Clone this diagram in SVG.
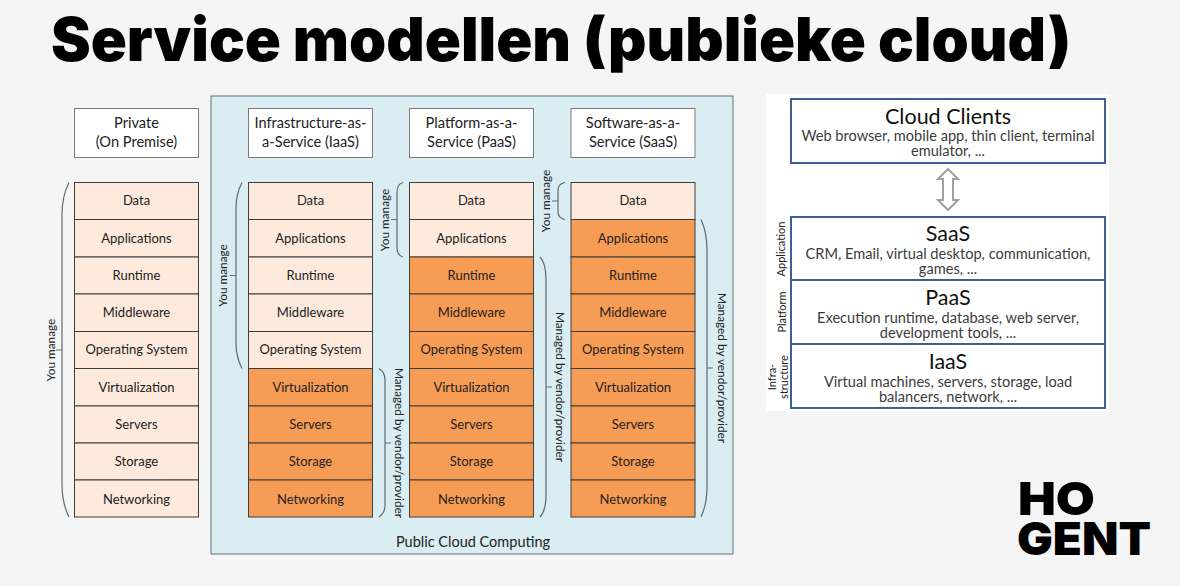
<svg xmlns="http://www.w3.org/2000/svg" width="1180" height="586" viewBox="0 0 1180 586">
<style>
text{font-family:"Lato","Open Sans",sans-serif;fill:#222;text-anchor:middle}
.h{font-size:14.6px}
.r{font-size:13px}
.box{stroke:#3d3d3d;stroke-width:1}
.hd{fill:#fff;stroke:#7a7a7a;stroke-width:1}
.l{fill:#fdeadd}
.o{fill:#f69c55}
.br{fill:none;stroke:#5f6b70;stroke-width:1.2}
.s{font-size:11.8px}
.bx{fill:#fff;stroke:#3f5f93;stroke-width:2}
.t{font-size:21.5px;fill:#111}
.d{font-size:14.6px;fill:#3c3c3c}
.sd{font-size:11px;fill:#333}
.big{font-family:"Inter","Liberation Sans",sans-serif;font-weight:900;fill:#000;text-anchor:start}
</style>
<rect width="1180" height="586" fill="#f5f5f5"/>
<text class="big" x="51" y="61" font-size="60" textLength="1020" lengthAdjust="spacingAndGlyphs">Service modellen (publieke cloud)</text>
<g id="public-cloud"><rect x="211" y="96" width="522" height="458" fill="#daedf3" stroke="#5e7078"/><text x="473" y="547" style="font-size:14.5px">Public Cloud Computing</text></g>
<g id="private">
<rect class="hd" x="74.5" y="108.5" width="124" height="49"/><text class="h" x="136.5" y="128">Private</text><text class="h" x="136.5" y="147">(On Premise)</text>
<g class="box l"><rect x="74.5" y="182.5" width="124" height="37"/><rect x="74.5" y="219.5" width="124" height="37.5"/><rect x="74.5" y="257" width="124" height="37"/><rect x="74.5" y="294" width="124" height="37.5"/><rect x="74.5" y="331.5" width="124" height="37"/><rect x="74.5" y="368.5" width="124" height="37.5"/><rect x="74.5" y="406" width="124" height="37"/><rect x="74.5" y="443" width="124" height="37"/><rect x="74.5" y="480" width="124" height="37"/></g>
<g class="r"><text x="136.5" y="205">Data</text><text x="136.5" y="243">Applications</text><text x="136.5" y="280">Runtime</text><text x="136.5" y="317">Middleware</text><text x="136.5" y="354">Operating System</text><text x="136.5" y="392">Virtualization</text><text x="136.5" y="429">Servers</text><text x="136.5" y="466">Storage</text><text x="136.5" y="504">Networking</text></g>
</g>
<g id="iaas">
<rect class="hd" x="248.5" y="108.5" width="124" height="49"/><text class="h" x="310.5" y="128">Infrastructure-as-</text><text class="h" x="310.5" y="147">a-Service (IaaS)</text>
<g class="box l"><rect x="248.5" y="182.5" width="124" height="37"/><rect x="248.5" y="219.5" width="124" height="37.5"/><rect x="248.5" y="257" width="124" height="37"/><rect x="248.5" y="294" width="124" height="37.5"/><rect x="248.5" y="331.5" width="124" height="37"/></g>
<g class="box o"><rect x="248.5" y="368.5" width="124" height="37.5"/><rect x="248.5" y="406" width="124" height="37"/><rect x="248.5" y="443" width="124" height="37"/><rect x="248.5" y="480" width="124" height="37"/></g>
<g class="r"><text x="310.5" y="205">Data</text><text x="310.5" y="243">Applications</text><text x="310.5" y="280">Runtime</text><text x="310.5" y="317">Middleware</text><text x="310.5" y="354">Operating System</text><text x="310.5" y="392">Virtualization</text><text x="310.5" y="429">Servers</text><text x="310.5" y="466">Storage</text><text x="310.5" y="504">Networking</text></g>
</g>
<g id="paas">
<rect class="hd" x="409.5" y="108.5" width="124" height="49"/><text class="h" x="471.5" y="128">Platform-as-a-</text><text class="h" x="471.5" y="147">Service (PaaS)</text>
<g class="box l"><rect x="409.5" y="182.5" width="124" height="37"/><rect x="409.5" y="219.5" width="124" height="37.5"/></g>
<g class="box o"><rect x="409.5" y="257" width="124" height="37"/><rect x="409.5" y="294" width="124" height="37.5"/><rect x="409.5" y="331.5" width="124" height="37"/><rect x="409.5" y="368.5" width="124" height="37.5"/><rect x="409.5" y="406" width="124" height="37"/><rect x="409.5" y="443" width="124" height="37"/><rect x="409.5" y="480" width="124" height="37"/></g>
<g class="r"><text x="471.5" y="205">Data</text><text x="471.5" y="243">Applications</text><text x="471.5" y="280">Runtime</text><text x="471.5" y="317">Middleware</text><text x="471.5" y="354">Operating System</text><text x="471.5" y="392">Virtualization</text><text x="471.5" y="429">Servers</text><text x="471.5" y="466">Storage</text><text x="471.5" y="504">Networking</text></g>
</g>
<g id="saas">
<rect class="hd" x="571" y="108.5" width="124" height="49"/><text class="h" x="633" y="128">Software-as-a-</text><text class="h" x="633" y="147">Service (SaaS)</text>
<g class="box l"><rect x="571" y="182.5" width="124" height="37"/></g>
<g class="box o"><rect x="571" y="219.5" width="124" height="37.5"/><rect x="571" y="257" width="124" height="37"/><rect x="571" y="294" width="124" height="37.5"/><rect x="571" y="331.5" width="124" height="37"/><rect x="571" y="368.5" width="124" height="37.5"/><rect x="571" y="406" width="124" height="37"/><rect x="571" y="443" width="124" height="37"/><rect x="571" y="480" width="124" height="37"/></g>
<g class="r"><text x="633" y="205">Data</text><text x="633" y="243">Applications</text><text x="633" y="280">Runtime</text><text x="633" y="317">Middleware</text><text x="633" y="354">Operating System</text><text x="633" y="392">Virtualization</text><text x="633" y="429">Servers</text><text x="633" y="466">Storage</text><text x="633" y="504">Networking</text></g>
</g>
<g id="connectors">
<path class="br" d="M69 182.5Q62 196 62 215V484Q62 503 69 517M62 350H56"/>
<path class="br" d="M242 182.5Q236 194 236 208V343Q236 357 242 368.5M236 275.5H230"/>
<path class="br" d="M403 182.5Q397 184 397 192V248Q397 255 403 257M397 219.5H391"/>
<path class="br" d="M565 182.5Q558 184 558 190V212Q558 218 565 219.5M558 201H552"/>
<path class="br" d="M379 368.5Q385 372 385 380V505Q385 513 379 517M385 443H391"/>
<path class="br" d="M540 257Q546 263 546 280V494Q546 511 540 517M546 387H552"/>
<path class="br" d="M701 219.5Q707 232 707 250V487Q707 504 701 517M707 368H713"/>
</g>
<g id="brace-labels" class="s">
<text transform="translate(55 350) rotate(-90)">You manage</text>
<text transform="translate(227 275.5) rotate(-90)">You manage</text>
<text transform="translate(388.5 220) rotate(-90)">You manage</text>
<text transform="translate(550 201) rotate(-90)">You manage</text>
<text transform="translate(394.5 443) rotate(90)">Managed by vendor/provider</text>
<text transform="translate(555.5 387) rotate(90)">Managed by vendor/provider</text>
<text transform="translate(717.5 368) rotate(90)">Managed by vendor/provider</text>
</g>
<rect x="766" y="94" width="343" height="317" fill="#fff"/>
<g id="cloud-clients"><rect class="bx" x="791" y="99" width="314" height="64"/><text class="t" x="948" y="124">Cloud Clients</text><text class="d" x="948" y="141">Web browser, mobile app, thin client, terminal</text><text class="d" x="948" y="156">emulator, ...</text></g>
<g id="saas-layer"><rect class="bx" x="791" y="217" width="314" height="63"/><text class="t" x="948" y="241">SaaS</text><text class="d" x="948" y="259">CRM, Email, virtual desktop, communication,</text><text class="d" x="948" y="274">games, ...</text></g>
<g id="paas-layer"><rect class="bx" x="791" y="280" width="314" height="64"/><text class="t" x="948" y="305">PaaS</text><text class="d" x="948" y="323">Execution runtime, database, web server,</text><text class="d" x="948" y="338">development tools, ...</text></g>
<g id="iaas-layer"><rect class="bx" x="791" y="344" width="314" height="64"/><text class="t" x="948" y="369">IaaS</text><text class="d" x="948" y="387">Virtual machines, servers, storage, load</text><text class="d" x="948" y="402">balancers, network, ...</text></g>
<g id="layer-labels" class="sd">
<text transform="translate(785 249) rotate(-90)">Application</text>
<text transform="translate(786 312) rotate(-90)">Platform</text>
<text transform="translate(776 377) rotate(-90)">Infra-</text>
<text transform="translate(788 377) rotate(-90)">structure</text>
</g>
<path id="double-arrow" d="M948 169L958 179H953V200H958L948 210L938 200H943V179H938Z" fill="#fff" stroke="#a0a0a0" stroke-width="2"/>
<g id="logo"><text class="big" x="1018" y="515" font-size="46" textLength="77" lengthAdjust="spacingAndGlyphs">HO</text><text class="big" x="1017" y="555" font-size="46" textLength="134" lengthAdjust="spacingAndGlyphs">GENT</text></g>
</svg>
